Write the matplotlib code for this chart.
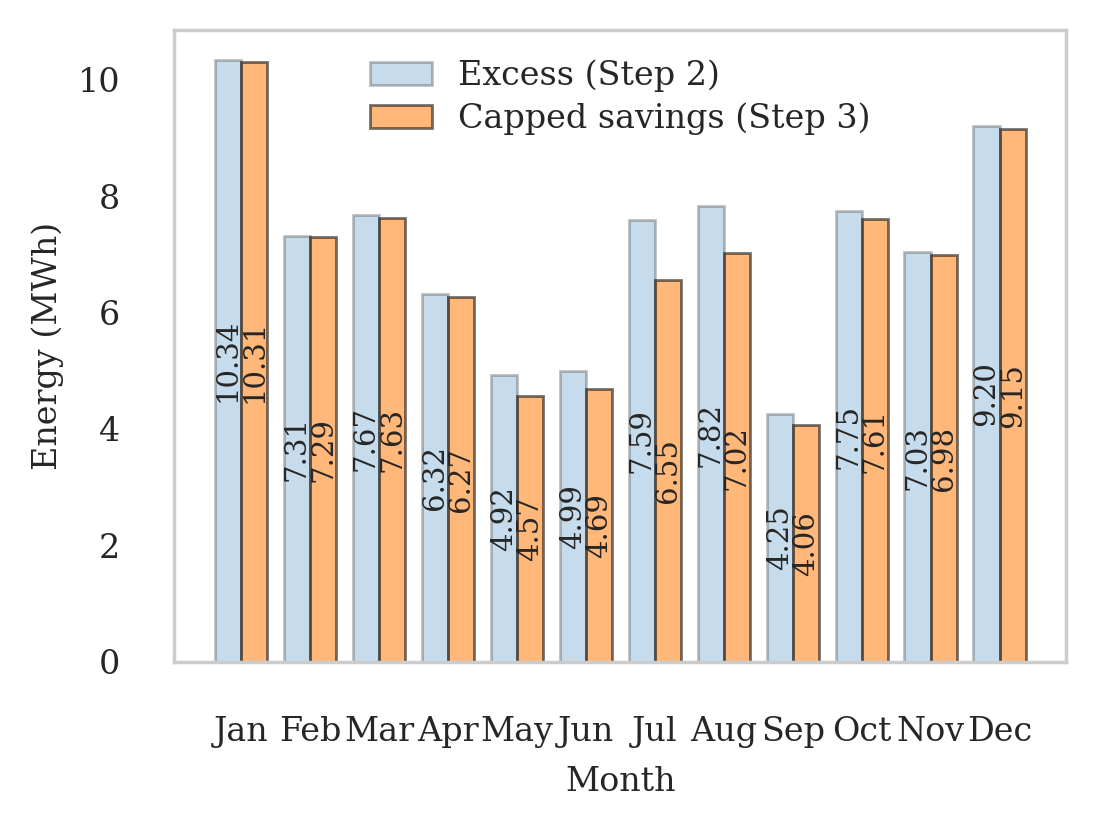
import matplotlib

matplotlib.use("Agg")
import matplotlib.pyplot as plt
import numpy as np
import seaborn as sns

months = ["Jan", "Feb", "Mar", "Apr", "May", "Jun", "Jul", "Aug", "Sep", "Oct", "Nov", "Dec"]
excess = [10.34, 7.31, 7.67, 6.32, 4.92, 4.99, 7.59, 7.82, 4.25, 7.75, 7.03, 9.20]
capped = [10.31, 7.29, 7.63, 6.27, 4.57, 4.69, 6.55, 7.02, 4.06, 7.61, 6.98, 9.15]

sns.set_theme(style="whitegrid")
plt.rcParams["font.family"] = ["DejaVu Serif"]

fig, ax = plt.subplots(figsize=(5.48, 4.13), dpi=200)
x = np.arange(len(months))
width = 0.38

b1 = ax.bar(x - width / 2, excess, width, color="tab:blue", alpha=0.25,
            edgecolor="black", linewidth=1.0, label="Excess (Step 2)")
b2 = ax.bar(x + width / 2, capped, width, color="tab:orange", alpha=0.55,
            edgecolor="black", linewidth=1.0, label="Capped savings (Step 3)")

for bars, vals in ((b1, excess), (b2, capped)):
    for rect, v in zip(bars, vals):
        ax.text(rect.get_x() + rect.get_width() / 2, v / 2, f"{v:.2f}",
                rotation=90, ha="center", va="center", fontsize=10.5, color="#262626")

ax.set_xticks(x)
ax.set_xticklabels(months, fontsize=12)
ax.tick_params(axis="x", pad=13.5)
ax.tick_params(axis="y", labelsize=12, pad=13.5)
ax.set_xlabel("Month", fontsize=12, labelpad=6.5)
ax.set_ylabel("Energy (MWh)", fontsize=12, labelpad=5)
ax.grid(False)
ax.legend(loc="upper center", frameon=False, fontsize=12,
          labelspacing=0.3, handlelength=1.85)

fig.subplots_adjust(left=0.159, right=0.973, top=0.964, bottom=0.199)
fig.savefig("out.png")
